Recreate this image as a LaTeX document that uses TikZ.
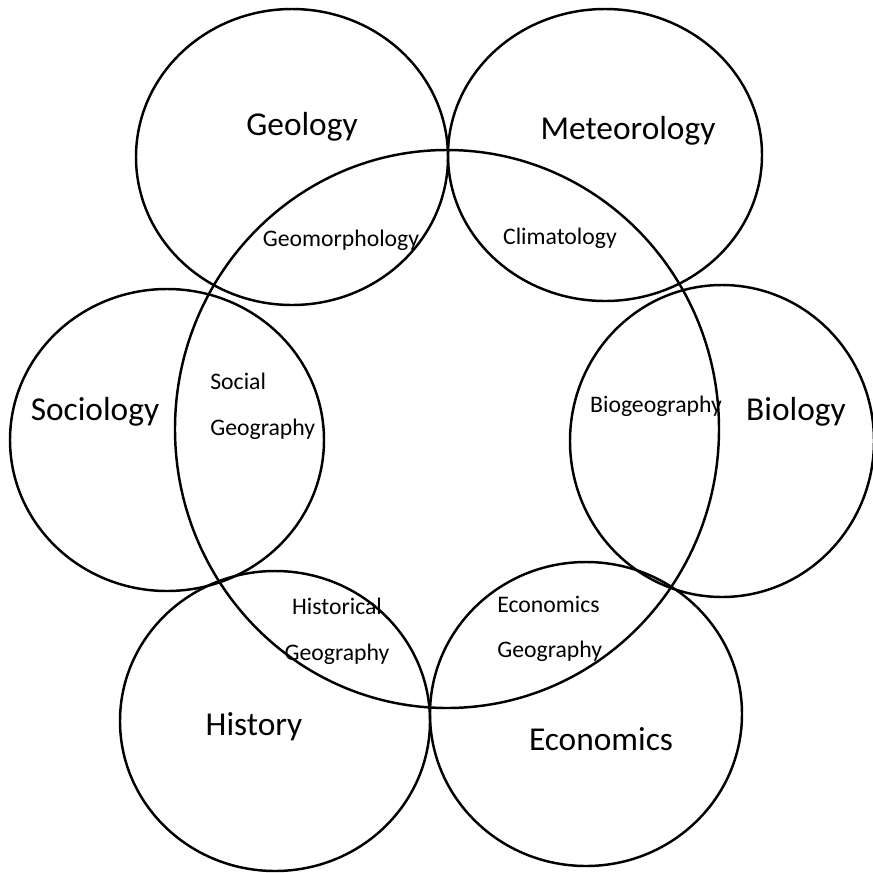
\documentclass[tikz,border=0pt]{standalone}
\usepackage{fontspec}
\setmainfont{Carlito}
\usepackage{tikz}

\begin{document}
\begin{tikzpicture}[x=0.02cm, y=-0.02cm,
    ring/.style={draw, line width=1.4pt},
    field/.style={font=\fontsize{19}{21}\selectfont, inner sep=0pt},
    branch/.style={font=\fontsize{13.5}{15}\selectfont, inner sep=0pt, align=left}]
    \useasboundingbox (0,0) rectangle (873,873);

    % Disciplines around
    \draw[ring] (292,157) ellipse (156 and 148);
    \draw[ring] (605,155) ellipse (157 and 146);
    \draw[ring] (167,440) ellipse (157 and 151);
    \draw[ring] (722,441) ellipse (152 and 156);
    \draw[ring] (275,721) ellipse (155 and 150);
    \draw[ring] (586,714) ellipse (156 and 152);

    % Geography in the middle
    \draw[ring] (447,429) ellipse (272 and 279);

    % Outer labels
    \node[field] (GEOLOGY) at (302,127) {Geology};
    \node[field] (METEO) at (628,131) {Meteorology};
    \node[field] (SOCIO) at (95,412) {Sociology};
    \node[field] (BIO) at (796,412) {Biology};
    \node[field] (HIST) at (254,727) {History};
    \node[field] (ECON) at (601,739) {Economics};

    % Overlap labels
    \node[branch] (GEOMORPH) at (341,240) {Geomorphology};
    \node[branch] (CLIMATE) at (560,238) {Climatology};
    \node[branch, anchor=west] (SOCGEO) at (210,406) {Social\\[11pt]Geography};
    \node[branch] (BIOGEO) at (656,406) {Biogeography};
    \node[branch, align=center] (HISTGEO) at (337,631) {Historical\\[11pt]Geography};
    \node[branch, anchor=west] (ECONGEO) at (497,629) {Economics\\[11pt]Geography};
\end{tikzpicture}
\end{document}
